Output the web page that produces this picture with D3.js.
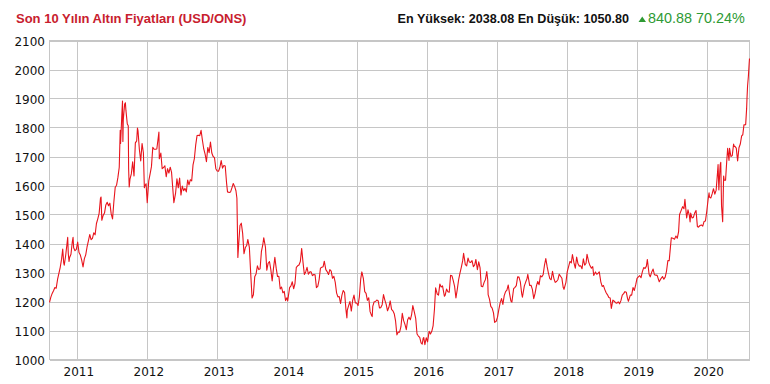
<!DOCTYPE html>
<html lang="tr">
	<head>
		<meta charset="utf-8">
		<title>Son 10 Yılın Altın Fiyatları</title>
		<script src="https://d3js.org/d3.v7.min.js"></script>
		<style type="text/css">
			body {
				margin: 0;
				background: #fff;
			}
			.grid line, .frame {
				stroke: #c6c6c6;
				stroke-width: 1px;
				fill: none;
				shape-rendering: crispEdges;
			}
			.tick-label {
				font-family: "DejaVu Sans", Verdana, sans-serif;
				font-size: 12px;
				fill: #111;
			}
		</style>
	</head>
	<body>
		<script type="text/javascript">

			// header figures
			var highValue = "2038.08";
			var lowValue = "1050.80";
			var changeText = "840.88 70.24%";

			var yTicks = [1000, 1100, 1200, 1300, 1400, 1500, 1600, 1700, 1800, 1900, 2000, 2100];
			var xTickYears = [2011, 2012, 2013, 2014, 2015, 2016, 2017, 2018, 2019, 2020];

			// gold price, [month-day, USD/ons]
			var gold2010 = [["08-06",1197.2],["08-13",1215],["08-20",1228],["08-27",1237],["09-03",1248],["09-10",1246],["09-17",1276],["09-24",1297],["10-01",1318],["10-08",1346],["10-14",1381],["10-19",1334],["10-22",1325],["10-29",1357],["11-05",1397],["11-09",1421],["11-12",1366],["11-16",1338],["11-19",1352],["11-26",1363],["12-03",1406],["12-07",1421],["12-10",1385],["12-17",1375],["12-24",1380],["12-31",1405]];
			var gold2011 = [["01-07",1369],["01-14",1360],["01-21",1343],["01-28",1319],["02-04",1348],["02-11",1361],["02-18",1388],["02-25",1409],["03-04",1431],["03-11",1413],["03-18",1418],["03-25",1437],["04-01",1430],["04-08",1469],["04-15",1485],["04-22",1504],["04-29",1556],["05-02",1560],["05-06",1480],["05-13",1497],["05-20",1505],["05-27",1533],["06-03",1542],["06-10",1530],["06-17",1539],["06-24",1502],["07-01",1485],["07-08",1545],["07-15",1594],["07-22",1601],["07-29",1628],["08-05",1663],["08-10",1790],["08-12",1745],["08-19",1852],["08-22",1891],["08-24",1752],["08-26",1826],["09-02",1880],["09-06",1885],["09-09",1858],["09-16",1812],["09-21",1806],["09-23",1656],["09-26",1595],["09-30",1622],["10-07",1640],["10-14",1682],["10-21",1633],["10-28",1747],["11-04",1754],["11-08",1798],["11-11",1788],["11-18",1724],["11-25",1685],["12-02",1745],["12-09",1713],["12-14",1592],["12-16",1598],["12-23",1606],["12-29",1541]];
			var gold2012 = [["01-06",1616],["01-13",1640],["01-20",1665],["01-27",1732],["02-03",1725],["02-10",1725],["02-17",1726],["02-28",1784],["03-01",1692],["03-09",1712],["03-16",1658],["03-23",1662],["03-30",1668],["04-06",1630],["04-13",1658],["04-20",1643],["04-27",1663],["05-04",1645],["05-11",1584],["05-16",1541],["05-25",1574],["06-01",1623],["06-08",1592],["06-15",1626],["06-22",1567],["06-29",1598],["07-06",1582],["07-13",1590],["07-20",1578],["07-27",1619],["08-03",1602],["08-10",1620],["08-17",1616],["08-24",1671],["08-31",1693],["09-07",1740],["09-14",1772],["09-21",1773],["09-28",1772],["10-05",1790],["10-12",1756],["10-19",1726],["10-26",1708],["11-02",1682],["11-09",1731],["11-16",1713],["11-23",1750],["11-30",1712],["12-07",1700],["12-14",1696],["12-21",1658],["12-28",1650]];
			var gold2013 = [["01-04",1649],["01-11",1662],["01-18",1686],["01-25",1660],["02-01",1669],["02-08",1667],["02-15",1609],["02-20",1578],["03-01",1576],["03-08",1578],["03-15",1592],["03-22",1607],["03-29",1597],["04-05",1582],["04-10",1556],["04-12",1477],["04-15",1352],["04-19",1395],["04-26",1462],["05-03",1470],["05-10",1435],["05-17",1365],["05-24",1386],["05-31",1393],["06-06",1414],["06-14",1387],["06-21",1297],["06-28",1212],["07-05",1223],["07-12",1285],["07-19",1295],["07-26",1323],["08-02",1310],["08-09",1313],["08-16",1373],["08-23",1395],["08-28",1420],["09-06",1387],["09-13",1308],["09-20",1332],["09-27",1338],["10-04",1310],["10-11",1271],["10-18",1315],["10-25",1352],["11-01",1315],["11-08",1286],["11-15",1287],["11-22",1243],["11-29",1250],["12-06",1230],["12-13",1235],["12-20",1203],["12-27",1213],["12-31",1202]];
			var gold2014 = [["01-10",1248],["01-17",1254],["01-24",1268],["01-31",1244],["02-07",1262],["02-14",1318],["02-21",1323],["02-28",1326],["03-07",1338],["03-14",1383],["03-21",1335],["03-28",1293],["04-04",1302],["04-11",1318],["04-18",1294],["04-25",1302],["05-02",1302],["05-09",1289],["05-16",1293],["05-23",1292],["05-30",1248],["06-06",1252],["06-13",1275],["06-20",1315],["06-27",1318],["07-04",1320],["07-10",1339],["07-18",1310],["07-25",1303],["08-01",1293],["08-08",1310],["08-15",1305],["08-22",1280],["08-29",1287],["09-05",1267],["09-12",1230],["09-19",1216],["09-26",1217],["10-03",1193],["10-10",1222],["10-17",1238],["10-24",1231],["10-31",1172],["11-05",1143],["11-07",1170],["11-14",1186],["11-21",1200],["11-28",1167],["12-05",1204],["12-12",1222],["12-19",1195],["12-26",1195]];
			var gold2015 = [["01-02",1186],["01-09",1216],["01-16",1277],["01-22",1302],["01-30",1279],["02-06",1234],["02-13",1228],["02-20",1204],["02-27",1213],["03-06",1165],["03-13",1153],["03-17",1148],["03-20",1183],["03-27",1199],["04-03",1200],["04-10",1205],["04-17",1203],["04-24",1178],["05-01",1179],["05-08",1189],["05-15",1224],["05-22",1205],["05-29",1190],["06-05",1168],["06-12",1180],["06-19",1202],["06-26",1173],["07-03",1168],["07-10",1158],["07-17",1133],["07-24",1085],["07-31",1095],["08-07",1094],["08-14",1113],["08-21",1159],["08-28",1134],["09-04",1121],["09-11",1103],["09-18",1137],["09-25",1146],["10-02",1137],["10-09",1156],["10-15",1186],["10-23",1163],["10-30",1142],["11-06",1088],["11-13",1081],["11-20",1076],["11-27",1057],["12-03",1053],["12-08",1073],["12-11",1076],["12-17",1050.8],["12-24",1075],["12-31",1061]];
			var gold2016 = [["01-08",1097],["01-15",1088],["01-22",1097],["01-29",1117],["02-05",1174],["02-11",1247],["02-19",1226],["02-26",1222],["03-04",1260],["03-11",1250],["03-18",1254],["03-28",1218],["04-01",1222],["04-08",1243],["04-15",1234],["04-22",1232],["04-29",1290],["05-06",1289],["05-13",1272],["05-20",1252],["05-27",1212],["06-03",1242],["06-10",1275],["06-17",1298],["06-24",1318],["07-01",1340],["07-06",1366],["07-15",1327],["07-22",1323],["07-29",1350],["08-05",1336],["08-12",1335],["08-19",1341],["08-26",1320],["09-02",1326],["09-08",1345],["09-16",1310],["09-23",1337],["09-30",1316],["10-06",1253],["10-14",1251],["10-21",1266],["10-28",1276],["11-04",1303],["11-09",1274],["11-11",1224],["11-18",1208],["11-25",1183],["12-02",1177],["12-09",1161],["12-15",1128],["12-23",1132],["12-30",1146]];
			var gold2017 = [["01-06",1173],["01-13",1196],["01-20",1210],["01-27",1190],["02-03",1220],["02-10",1234],["02-17",1239],["02-24",1257],["03-03",1226],["03-10",1201],["03-15",1198],["03-24",1244],["03-31",1249],["04-07",1255],["04-14",1285],["04-21",1284],["04-28",1268],["05-05",1228],["05-09",1215],["05-19",1254],["05-26",1267],["06-02",1279],["06-06",1294],["06-16",1255],["06-23",1256],["06-30",1242],["07-07",1210],["07-14",1228],["07-21",1254],["07-28",1269],["08-04",1258],["08-11",1289],["08-18",1285],["08-25",1292],["09-01",1325],["09-08",1348],["09-15",1320],["09-22",1297],["09-29",1279],["10-06",1275],["10-13",1304],["10-20",1280],["10-27",1266],["11-03",1269],["11-10",1275],["11-17",1294],["11-24",1287],["12-01",1280],["12-08",1248],["12-12",1242],["12-22",1266],["12-29",1303]];
			var gold2018 = [["01-05",1320],["01-12",1338],["01-19",1333],["01-25",1362],["02-02",1333],["02-09",1315],["02-16",1353],["02-23",1330],["03-02",1322],["03-09",1323],["03-16",1313],["03-23",1347],["03-30",1325],["04-06",1332],["04-11",1363],["04-20",1336],["04-27",1323],["05-04",1315],["05-11",1320],["05-16",1290],["05-25",1302],["06-01",1294],["06-08",1298],["06-14",1302],["06-22",1268],["06-29",1252],["07-06",1255],["07-13",1241],["07-20",1230],["07-27",1223],["08-03",1214],["08-10",1212],["08-16",1176],["08-24",1205],["08-31",1201],["09-07",1196],["09-14",1194],["09-21",1199],["09-28",1192],["10-05",1203],["10-12",1222],["10-19",1227],["10-26",1234],["11-02",1232],["11-09",1209],["11-13",1201],["11-23",1222],["11-30",1222],["12-07",1248],["12-14",1238],["12-21",1257],["12-28",1280]];
			var gold2019 = [["01-04",1285],["01-11",1289],["01-18",1282],["01-25",1303],["02-01",1317],["02-08",1314],["02-15",1322],["02-20",1345],["03-01",1294],["03-07",1285],["03-15",1302],["03-22",1312],["03-29",1292],["04-05",1291],["04-12",1290],["04-23",1268],["05-03",1280],["05-10",1286],["05-17",1277],["05-24",1284],["05-31",1305],["06-07",1341],["06-14",1341],["06-20",1385],["06-25",1420],["07-03",1418],["07-12",1415],["07-19",1426],["07-26",1418],["08-02",1441],["08-07",1500],["08-13",1510],["08-23",1527],["08-30",1520],["09-04",1552],["09-13",1488],["09-20",1516],["09-27",1497],["10-01",1474],["10-04",1505],["10-11",1488],["10-18",1490],["10-25",1505],["11-01",1514],["11-08",1459],["11-12",1456],["11-22",1462],["11-29",1464],["12-06",1460],["12-13",1476],["12-20",1478],["12-27",1511]];
			var gold2020 = [["01-03",1552],["01-08",1575],["01-10",1560],["01-17",1557],["01-24",1571],["01-31",1589],["02-07",1570],["02-14",1584],["02-21",1644],["02-24",1672],["02-28",1585],["03-06",1672],["03-09",1680],["03-13",1530],["03-19",1475],["03-24",1633],["03-27",1618],["04-03",1618],["04-09",1682],["04-14",1728],["04-21",1686],["04-24",1728],["05-01",1700],["05-08",1703],["05-15",1743],["05-18",1735],["05-22",1735],["05-29",1729],["06-05",1685],["06-12",1730],["06-19",1743],["06-26",1771],["07-02",1775],["07-08",1809],["07-17",1810],["07-22",1865],["07-24",1902],["07-27",1944],["07-31",1975],["08-04",2019],["08-06",2038.08]];

			var w = 770;
			var h = 384;
			var plotL = 49.5, plotR = 749.5, plotT = 40.5, plotB = 359.5;

			var parse = d3.timeParse("%Y-%m-%d");
			var series = [];
			[[2010, gold2010], [2011, gold2011], [2012, gold2012], [2013, gold2013], [2014, gold2014],
			 [2015, gold2015], [2016, gold2016], [2017, gold2017], [2018, gold2018], [2019, gold2019],
			 [2020, gold2020]].forEach(function(yr) {
				yr[1].forEach(function(p) {
					series.push({ date: parse(yr[0] + "-" + p[0]), value: p[1] });
				});
			});

			var x = d3.scaleTime()
						.domain([parse("2010-08-06"), parse("2020-08-06")])
						.range([plotL, plotR]);

			var y = d3.scaleLinear()
						.domain([1000, 2100])
						.range([plotB, plotT]);

			var svg = d3.select("body")
						.append("svg")
						.attr("width", w)
						.attr("height", h);

			//Grid
			var grid = svg.append("g").attr("class", "grid");
			grid.selectAll("line.h")
				.data(yTicks)
				.enter()
				.append("line")
				.attr("x1", plotL)
				.attr("x2", plotR)
				.attr("y1", function(d) { return Math.round(y(d)) + 0.5; })
				.attr("y2", function(d) { return Math.round(y(d)) + 0.5; });

			grid.selectAll("line.v")
				.data(xTickYears)
				.enter()
				.append("line")
				.attr("x1", function(d) { return x(new Date(d, 0, 1)); })
				.attr("x2", function(d) { return x(new Date(d, 0, 1)); })
				.attr("y1", plotT)
				.attr("y2", plotB);

			svg.append("rect")
				.attr("class", "frame")
				.attr("x", plotL)
				.attr("y", plotT)
				.attr("width", plotR - plotL)
				.attr("height", plotB - plotT);

			//Tick labels
			svg.selectAll("text.ylab")
				.data(yTicks)
				.enter()
				.append("text")
				.attr("class", "tick-label")
				.attr("x", 45)
				.attr("y", function(d) { return y(d) + 5; })
				.attr("text-anchor", "end")
				.text(function(d) { return d; });

			svg.selectAll("text.xlab")
				.data(xTickYears)
				.enter()
				.append("text")
				.attr("class", "tick-label")
				.attr("x", function(d) { return x(new Date(d, 0, 1)) + 1; })
				.attr("y", 376)
				.attr("text-anchor", "middle")
				.text(function(d) { return d; });

			//Price line
			var line = d3.line()
						.x(function(d) { return x(d.date); })
						.y(function(d) { return y(d.value); });

			svg.append("path")
				.datum(series)
				.attr("d", line)
				.attr("fill", "none")
				.attr("stroke", "#e8141c")
				.attr("stroke-width", 1.1)
				.attr("stroke-linejoin", "round");

			//Header
			svg.append("text")
				.attr("x", 16)
				.attr("y", 23)
				.style("font-family", "'Liberation Sans', Arial, sans-serif")
				.style("font-size", "13px")
				.style("font-weight", "bold")
				.style("fill", "#c8202e")
				.text("Son 10 Yılın Altın Fiyatları (USD/ONS)");

			svg.append("text")
				.attr("x", 629)
				.attr("y", 22.5)
				.attr("text-anchor", "end")
				.style("font-family", "'Liberation Sans', Arial, sans-serif")
				.style("font-size", "12.6px")
				.style("font-weight", "bold")
				.style("fill", "#111")
				.text("En Yüksek: " + highValue + " En Düşük: " + lowValue);

			svg.append("path")
				.attr("d", "M638.5,22L646,22L642.25,16.5Z")
				.attr("fill", "#2e9a34");

			svg.append("text")
				.attr("x", 648)
				.attr("y", 22.5)
				.style("font-family", "'Liberation Sans', Arial, sans-serif")
				.style("font-size", "14.4px")
				.style("fill", "#2e9a34")
				.text(changeText);

		</script>
	</body>
</html>
